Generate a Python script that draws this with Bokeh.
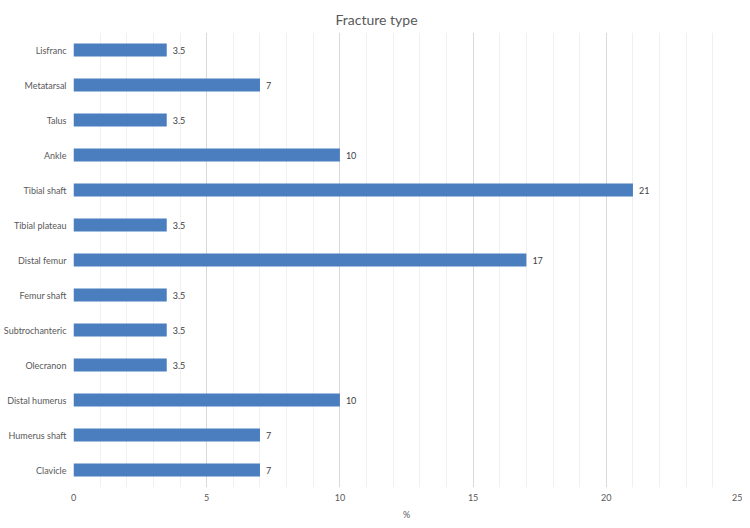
from bokeh.plotting import figure
from bokeh.models import ColumnDataSource, LabelSet, FactorRange, Range1d, SingleIntervalTicker, Title
from bokeh.core.properties import value
from bokeh.embed import file_html
from bokeh.resources import INLINE

categories = ["Lisfranc", "Metatarsal", "Talus", "Ankle", "Tibial shaft", "Tibial plateau",
              "Distal femur", "Femur shaft", "Subtrochanteric", "Olecranon", "Distal humerus",
              "Humerus shaft", "Clavicle"]
values = [3.5, 7, 3.5, 10, 21, 3.5, 17, 3.5, 3.5, 3.5, 10, 7, 7]
labels = ["3.5", "7", "3.5", "10", "21", "3.5", "17", "3.5", "3.5", "3.5", "10", "7", "7"]
title_text = "Fracture type"

FONT = "Lato"
src = ColumnDataSource(dict(cat=categories, val=values, lab=labels))

p = figure(width=742, height=522, output_backend="svg", toolbar_location=None,
           y_range=FactorRange(factors=list(reversed(categories)), range_padding=0),
           x_range=Range1d(0, 25),
           min_border_left=66, min_border_right=3, min_border_bottom=0, min_border_top=32)
p.title = Title(text=title_text, align="left", text_font=FONT, text_font_size="14px",
                text_color="#595959", text_font_style="normal", standoff=10, offset=262)
p.outline_line_color = None

p.hbar(y="cat", right="val", left=0, height=0.37, source=src, fill_color="#4A7EBF", line_color=None)

p.add_layout(LabelSet(x="val", y="cat", text="lab", source=src, x_offset=6, text_baseline="middle",
                      text_font=value(FONT), text_font_size=value("9px"), text_color="#404040"))

p.xaxis.ticker = SingleIntervalTicker(interval=5, num_minor_ticks=5)
p.xaxis.axis_line_color = None
p.xaxis.major_tick_line_color = None
p.xaxis.minor_tick_line_color = None
p.xaxis.major_tick_out = 0
p.xaxis.minor_tick_out = 0
p.xaxis.major_label_text_font = FONT
p.xaxis.major_label_text_font_size = "9px"
p.xaxis.major_label_text_color = "#595959"
p.xaxis.major_label_standoff = 6
p.xaxis.axis_label = "%"
p.xaxis.axis_label_text_font = FONT
p.xaxis.axis_label_text_font_size = "9px"
p.xaxis.axis_label_text_font_style = "normal"
p.xaxis.axis_label_text_color = "#595959"
p.xaxis.axis_label_standoff = 5

p.yaxis.axis_line_color = None
p.yaxis.major_tick_line_color = None
p.yaxis.minor_tick_line_color = None
p.yaxis.major_tick_out = 0
p.yaxis.minor_tick_out = 0
p.yaxis.major_label_text_font = FONT
p.yaxis.major_label_text_font_size = "9px"
p.yaxis.major_label_text_color = "#595959"
p.yaxis.major_label_standoff = 7

p.ygrid.grid_line_color = None
p.xgrid.grid_line_color = "#d9d9d9"
p.xgrid.minor_grid_line_color = "#f0f0f0"

open("out.html", "w").write(file_html(p, INLINE))
